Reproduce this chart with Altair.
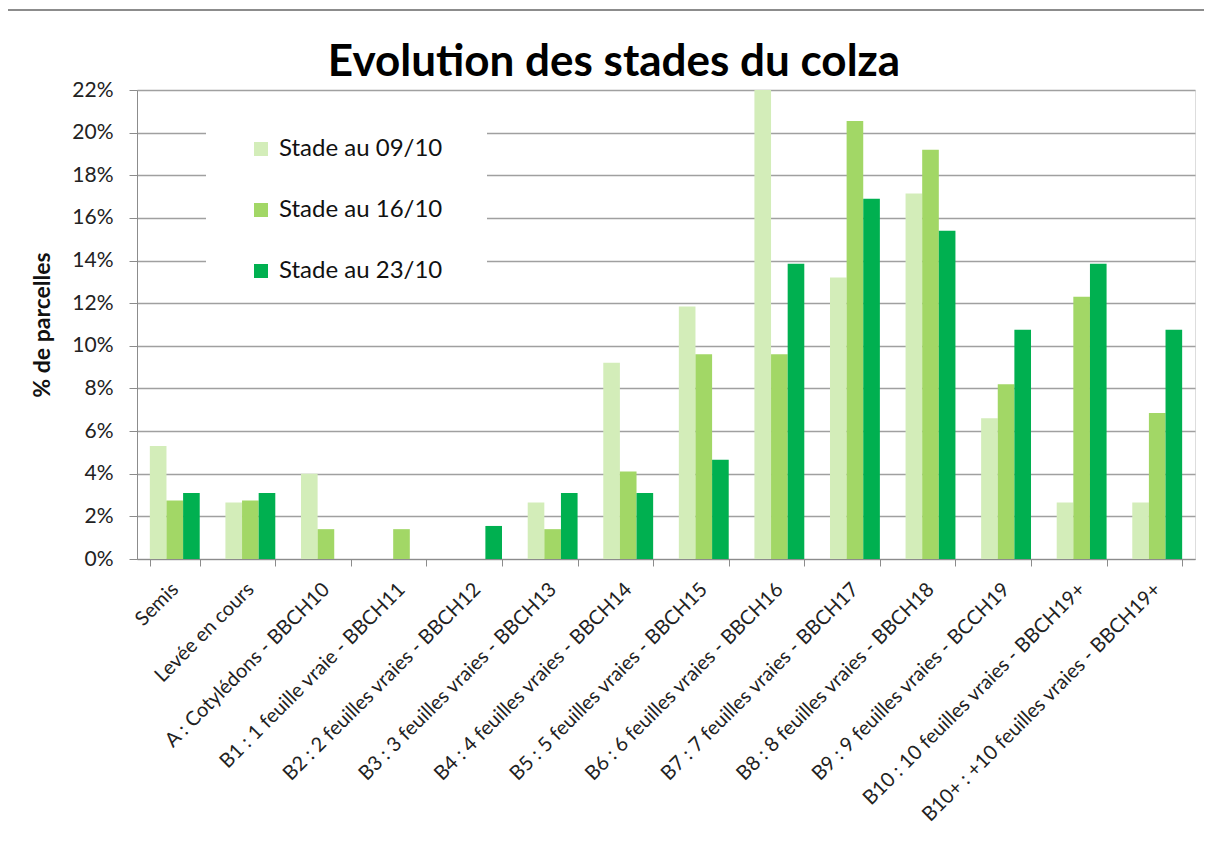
import altair as alt
import pandas as pd

categories = [
    "Semis",
    "Levée en cours",
    "A : Cotylédons - BBCH10",
    "B1 : 1 feuille vraie - BBCH11",
    "B2 : 2 feuilles vraies - BBCH12",
    "B3 : 3 feuilles vraies - BBCH13",
    "B4 : 4 feuilles vraies - BBCH14",
    "B5 : 5 feuilles vraies - BBCH15",
    "B6 : 6 feuilles vraies - BBCH16",
    "B7 : 7 feuilles vraies - BBCH17",
    "B8 : 8 feuilles vraies - BBCH18",
    "B9 : 9 feuilles vraies - BCCH19",
    "B10 : 10 feuilles vraies - BBCH19+",
    "B10+ : +10 feuilles vraies - BBCH19+",
]
series = ["Stade au 09/10", "Stade au 16/10", "Stade au 23/10"]
v_0910 = [5.3, 2.65, 4.0, 0, 0, 2.65, 9.2, 11.85, 22.0, 13.2, 17.15, 6.6, 2.65, 2.65]
v_1610 = [2.75, 2.75, 1.4, 1.4, 0, 1.4, 4.1, 9.6, 9.6, 20.55, 19.2, 8.2, 12.3, 6.85]
v_2310 = [3.1, 3.1, 0, 0, 1.55, 3.1, 3.1, 4.65, 13.85, 16.9, 15.4, 10.75, 13.85, 10.75]
y_ticks = [0, 0.02, 0.04, 0.06, 0.08, 0.10, 0.12, 0.14, 0.16, 0.18, 0.20, 0.22]
colors = ["#d3edb9", "#a2d766", "#00b050"]
title_text = "Evolution des stades du colza"

rows = []
for s, vals in zip(series, [v_0910, v_1610, v_2310]):
    for c, v in zip(categories, vals):
        rows.append({"stade": c, "serie": s, "pct": v / 100.0})
df = pd.DataFrame(rows)

W, H = 1058, 469
FONT = "Lato"
one = pd.DataFrame({"k": [0]})

frame_top = alt.Chart(one).mark_rect(color="#8c8c8c").encode(
    x=alt.value(-129), x2=alt.value(1075), y=alt.value(-81), y2=alt.value(-79)
)

legend_bg = alt.Chart(one).mark_rect(color="white").encode(
    x=alt.value(69), x2=alt.value(350), y=alt.value(20), y2=alt.value(195)
)

title = alt.Chart(one).mark_text(
    text=title_text,
    font=FONT,
    fontSize=44,
    fontWeight="bold",
    color="#000000",
    align="center",
    baseline="alphabetic",
).encode(x=alt.value(477), y=alt.value(-14))

bars = alt.Chart(df).mark_bar().encode(
    x=alt.X(
        "stade:N",
        sort=categories,
        scale=alt.Scale(paddingInner=0.34, paddingOuter=0.17),
        axis=alt.Axis(
            title=None,
            labelAngle=-45,
            labelAlign="right",
            labelBaseline="middle",
            labelFont=FONT,
            labelFontSize=20,
            labelColor="#222222",
            labelPadding=20,
            labelLimit=500,
            tickBand="extent",
            tickSize=7,
            tickColor="#8c8c8c",
            domainColor="#8c8c8c",
            grid=False,
        ),
    ),
    xOffset=alt.XOffset("serie:N", sort=series, scale=alt.Scale(paddingInner=0, paddingOuter=0)),
    y=alt.Y(
        "pct:Q",
        scale=alt.Scale(domain=[0, 0.22], nice=False),
        axis=alt.Axis(
            title="% de parcelles",
            titleFont=FONT,
            titleFontSize=23,
            titleFontWeight="bold",
            titleColor="#111111",
            titleX=-95,
            titleY=H / 2,
            titleAngle=270,
            titleAlign="center",
            titleBaseline="middle",
            values=y_ticks,
            format=".0%",
            labelFont=FONT,
            labelFontSize=21,
            labelColor="#222222",
            labelPadding=16,
            tickSize=8,
            tickColor="#8c8c8c",
            domainColor="#8c8c8c",
            gridColor="#a0a0a0",
            gridWidth=1.3,
        ),
    ),
    color=alt.Color(
        "serie:N",
        sort=series,
        scale=alt.Scale(domain=series, range=colors),
        legend=alt.Legend(
            title=None,
            orient="none",
            legendX=112,
            legendY=47,
            symbolType="square",
            symbolSize=196,
            symbolStrokeWidth=0,
            labelFont=FONT,
            labelFontSize=24,
            labelColor="#111111",
            labelOffset=6,
            labelLimit=400,
            rowPadding=37,
            padding=0,
        ),
    ),
)

chart = alt.layer(frame_top, legend_bg, bars, title).properties(
    width=W,
    height=H,
    autosize=alt.AutoSizeParams(type="none"),
    padding={"left": 129, "top": 82, "right": 9, "bottom": 268},
).configure_view(stroke=None).configure(background="white")

chart.save("out.html", embed_options={"renderer": "svg", "actions": False})
